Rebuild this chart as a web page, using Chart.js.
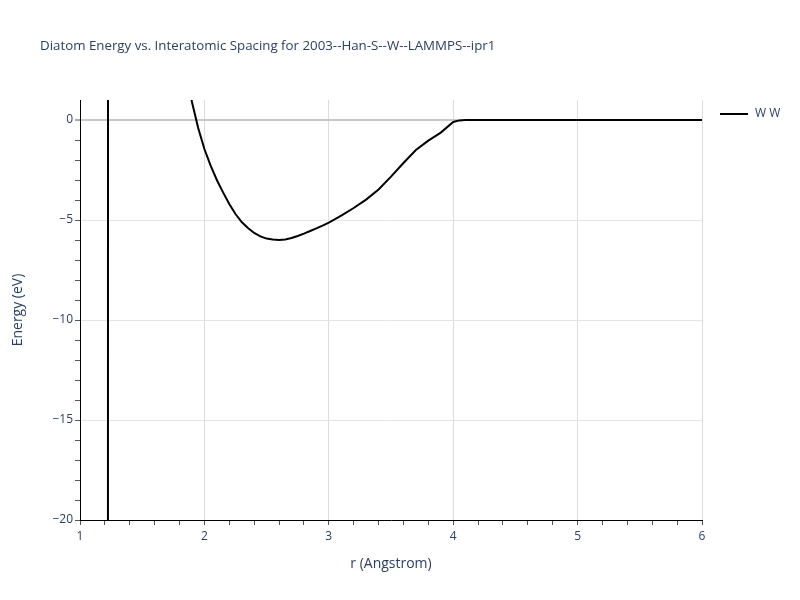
<!DOCTYPE html>
<html>
<head>
<meta charset="utf-8">
<script src="https://cdn.jsdelivr.net/npm/chart.js@4.4.0/dist/chart.umd.min.js"></script>
<style>
  html, body { margin: 0; padding: 0; background: #fff; }
  #wrap { width: 800px; height: 600px; }
</style>
</head>
<body>
<div id="wrap"><canvas id="diatom-chart" width="800" height="600"></canvas></div>
<script>
// r (Angstrom) and energy (eV)
const rValues = [1.20, 1.22, 1.23, 1.5, 1.8, 1.9, 1.95, 2.0, 2.05, 2.1, 2.15, 2.2, 2.25, 2.3, 2.35,
  2.4, 2.45, 2.5, 2.55, 2.6, 2.65, 2.7, 2.75, 2.8, 2.85, 2.9, 2.95, 3.0,
  3.1, 3.2, 3.3, 3.4, 3.5, 3.6, 3.7, 3.8, 3.9, 4.0, 4.05, 4.1, 4.5, 5.0, 5.5, 6.0];
const energyValues = [-400, -400, 400, 30, 4.3, 0.9, -0.4, -1.45, -2.28, -3.0, -3.62, -4.2, -4.7, -5.1, -5.4,
  -5.65, -5.82, -5.93, -5.98, -6.0, -5.97, -5.9, -5.8, -5.68, -5.55, -5.42, -5.28, -5.13,
  -4.78, -4.4, -3.98, -3.47, -2.83, -2.15, -1.5, -1.03, -0.63, -0.1, -0.02, 0, 0, 0, 0, 0];
const seriesLabel = 'W W';
const chartTitle = 'Diatom Energy vs. Interatomic Spacing for 2003--Han-S--W--LAMMPS--ipr1';

const FONT = '"Open Sans", "DejaVu Sans", sans-serif';
const TEXT_COLOR = '#2a3f5f';

const isWhole = (v, step) => Math.abs(v / step - Math.round(v / step)) < 1e-6;
const minus = (s) => String(s).replace('-', '\u2212');

// title and legend drawn plotly-style, outside the plot area
const overlay = {
  id: 'overlay',
  afterDraw(chart) {
    const { ctx } = chart;
    ctx.save();
    ctx.fillStyle = TEXT_COLOR;
    ctx.font = `13.3px ${FONT}`;
    ctx.textBaseline = 'middle';
    ctx.fillText(chartTitle, 40, 46);

    ctx.strokeStyle = '#000';
    ctx.lineWidth = 2;
    ctx.beginPath();
    ctx.moveTo(720, 114);
    ctx.lineTo(748, 114);
    ctx.stroke();
    ctx.font = `12px ${FONT}`;
    ctx.fillText(seriesLabel, 755, 114);
    ctx.restore();
  },
};

const ctx = document.getElementById('diatom-chart').getContext('2d');
new Chart(ctx, {
  type: 'line',
  data: {
    datasets: [
      {
        label: seriesLabel,
        data: rValues.map((r, i) => ({ x: r, y: energyValues[i] })),
        borderColor: '#000',
        borderWidth: 2,
        pointRadius: 0,
        tension: 0,
        fill: false,
      },
    ],
  },
  options: {
    responsive: false,
    animation: false,
    layout: { padding: { left: 0, right: 98, top: 100, bottom: 0 } },
    plugins: {
      legend: { display: false },
      title: { display: false },
      tooltip: { enabled: false },
    },
    scales: {
      x: {
        type: 'linear',
        min: 1,
        max: 6,
        afterFit(scale) { scale.height = 80; },
        border: { color: '#000', width: 1 },
        grid: {
          color: (c) => (isWhole(c.tick.value, 1) ? '#dcdcdc' : 'rgba(0,0,0,0)'),
          tickColor: '#555',
          tickLength: 5,
          drawOnChartArea: true,
        },
        ticks: {
          stepSize: 0.2,
          autoSkip: false,
          maxRotation: 0,
          padding: 4,
          color: TEXT_COLOR,
          font: { family: FONT, size: 12 },
          callback: (v) => (isWhole(v, 1) ? String(Math.round(v)) : ''),
        },
        title: {
          display: true,
          text: 'r (Angstrom)',
          color: TEXT_COLOR,
          font: { family: FONT, size: 14 },
          padding: { top: 0, bottom: 28 },
        },
      },
      y: {
        min: -20,
        max: 1,
        afterFit(scale) { scale.width = 80; },
        border: { color: '#000', width: 1 },
        grid: {
          color: (c) => {
            const v = c.tick.value;
            if (v === 0) return '#c8c8c8';
            return isWhole(v, 5) ? '#e5e5e5' : 'rgba(0,0,0,0)';
          },
          lineWidth: (c) => (c.tick.value === 0 ? 2 : 1),
          tickColor: (c) => (c.tick.value === 1 ? 'rgba(0,0,0,0)' : '#555'),
          tickWidth: 1,
          tickLength: 5,
        },
        ticks: {
          stepSize: 1,
          autoSkip: false,
          padding: 2,
          color: TEXT_COLOR,
          font: { family: FONT, size: 12 },
          callback: (v) => (isWhole(v, 5) ? minus(v) : ''),
        },
        title: {
          display: true,
          text: 'Energy (eV)',
          color: TEXT_COLOR,
          font: { family: FONT, size: 14 },
          padding: { top: 10, bottom: 0 },
        },
      },
    },
  },
  plugins: [overlay],
});
</script>
</body>
</html>
